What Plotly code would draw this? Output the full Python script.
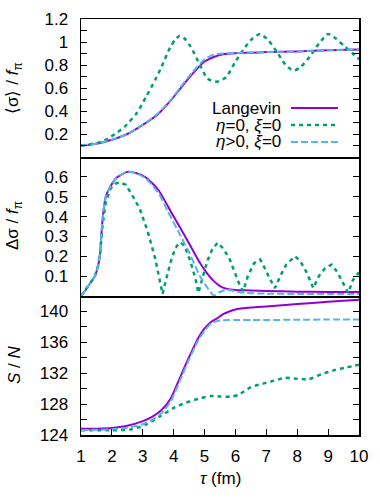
import plotly.graph_objects as go
from plotly.subplots import make_subplots

# ---------------- data ----------------
# panel 1: <sigma>/f_pi
tau_s1 = [1.0, 1.5, 2.0, 2.5, 3.0, 3.5, 3.9, 4.2, 4.6, 5.0, 5.3, 5.6, 6.0, 6.5, 7.0, 8.0, 9.0, 10.0]
sig_langevin = [0.10, 0.115, 0.15, 0.20, 0.28, 0.375, 0.49, 0.59, 0.72, 0.83, 0.87, 0.893, 0.903, 0.907, 0.912, 0.918, 0.928, 0.935]
sig_eta_pos = [0.10, 0.115, 0.15, 0.20, 0.28, 0.38, 0.495, 0.60, 0.735, 0.85, 0.89, 0.90, 0.905, 0.908, 0.912, 0.918, 0.928, 0.935]
tau_g1 = [1.0, 1.5, 1.8, 2.1, 2.4, 2.8, 3.1, 3.4, 3.6, 3.9, 4.05, 4.2, 4.35, 4.55, 4.85, 5.1, 5.4, 5.7,
          6.0, 6.3, 6.55, 6.8, 7.05, 7.3, 7.6, 7.87, 8.1, 8.4, 8.7, 9.0, 9.25, 9.5, 9.8, 10.0]
sig_eta0 = [0.10, 0.12, 0.15, 0.20, 0.26, 0.38, 0.52, 0.67, 0.78, 0.96, 1.02, 1.055, 1.03, 0.96, 0.80, 0.68, 0.655, 0.695,
            0.83, 0.95, 1.03, 1.07, 1.02, 0.93, 0.81, 0.75, 0.78, 0.87, 0.985, 1.07, 1.03, 0.97, 0.90, 0.85]

# panel 2: Delta sigma / f_pi
tau_d = [1.0, 1.15, 1.3, 1.45, 1.55, 1.62, 1.7, 1.8, 1.95, 2.15, 2.5, 2.8, 3.1, 3.5, 4.0, 4.5, 4.85, 5.1, 5.3, 5.5,
         5.7, 6.0, 6.5, 7.0, 8.0, 9.0, 10.0]
dsig_langevin = [0.0, 0.03, 0.065, 0.10, 0.15, 0.22, 0.39, 0.50, 0.55, 0.595, 0.625, 0.618, 0.597, 0.535, 0.40, 0.265,
                 0.167, 0.11, 0.075, 0.05, 0.037, 0.03, 0.028, 0.025, 0.022, 0.02, 0.02]
tau_d_b = [1.0, 1.15, 1.3, 1.45, 1.55, 1.62, 1.7, 1.8, 1.95, 2.15, 2.5, 2.8, 3.1, 3.5, 3.8, 4.1, 4.5, 4.85, 5.1, 5.3,
           5.5, 5.7, 5.95, 6.3, 7.0, 8.0, 10.0]
dsig_eta_pos = [0.0, 0.03, 0.065, 0.10, 0.15, 0.22, 0.39, 0.50, 0.55, 0.595, 0.625, 0.617, 0.592, 0.52, 0.43, 0.34,
                0.22, 0.10, 0.04, 0.003, 0.02, 0.032, 0.025, 0.016, 0.012, 0.01, 0.01]
tau_d_g = [1.0, 1.15, 1.3, 1.45, 1.55, 1.62, 1.7, 1.8, 1.95, 2.1, 2.25, 2.45, 2.65, 2.9, 3.15, 3.4, 3.55, 3.64, 3.75,
           3.9, 4.05, 4.2, 4.35, 4.55, 4.7, 4.8, 4.95, 5.1, 5.25, 5.42, 5.6, 5.8, 6.0, 6.15, 6.25, 6.4, 6.6, 6.8,
           6.95, 7.1, 7.28, 7.45, 7.65, 7.93, 8.1, 8.3, 8.52, 8.7, 8.9, 9.11, 9.3, 9.5, 9.65, 9.8, 10.0]
dsig_eta0 = [0.0, 0.03, 0.065, 0.10, 0.15, 0.22, 0.36, 0.47, 0.54, 0.565, 0.573, 0.56, 0.51, 0.44, 0.33, 0.19, 0.08,
             0.01, 0.08, 0.17, 0.24, 0.27, 0.255, 0.17, 0.09, 0.015, 0.10, 0.18, 0.235, 0.268, 0.24, 0.19, 0.11, 0.05,
             0.024, 0.10, 0.165, 0.184, 0.14, 0.09, 0.04, 0.10, 0.16, 0.20, 0.175, 0.12, 0.04, 0.10, 0.14, 0.158,
             0.12, 0.06, 0.016, 0.08, 0.12]

# panel 3: S/N
tau_e = [1.0, 1.5, 2.0, 2.5, 3.0, 3.3, 3.6, 3.9, 4.2, 4.5, 4.8, 5.0, 5.2, 5.4, 5.6, 5.8, 6.0, 6.5, 7.0, 8.0, 9.0, 10.0]
sn_langevin = [124.8, 124.82, 124.9, 125.2, 125.8, 126.35, 127.2, 128.7, 131.4, 134.1, 136.6, 137.8, 138.6, 139.1,
               139.65, 140.0, 140.25, 140.5, 140.65, 140.95, 141.25, 141.5]
sn_eta_pos = [124.65, 124.67, 124.72, 124.95, 125.4, 125.95, 126.8, 128.3, 131.0, 133.8, 136.3, 137.5, 138.4, 138.75,
              138.85, 138.88, 138.9, 138.9, 138.9, 138.92, 138.95, 138.95]
tau_e_g = [1.0, 2.0, 2.6, 3.1, 3.55, 4.0, 4.4, 4.85, 5.2, 5.5, 5.85, 6.1, 6.5, 7.0, 7.6, 8.0, 8.35, 8.8, 9.2, 9.6, 10.0]
sn_eta0 = [124.6, 124.62, 124.7, 125.35, 126.4, 127.5, 128.2, 128.75, 129.05, 129.0, 128.95, 129.2, 130.2, 130.75,
           131.4, 131.3, 131.2, 131.9, 132.4, 132.75, 133.1]

# ticks
x_ticks = [1, 2, 3, 4, 5, 6, 7, 8, 9, 10]
y1_ticks = [0.2, 0.4, 0.6, 0.8, 1.0, 1.2]
y1_text = ["0.2", "0.4", "0.6", "0.8", "1", "1.2"]
y2_ticks = [0.1, 0.2, 0.3, 0.4, 0.5, 0.6]
y2_text = ["0.1", "0.2", "0.3", "0.4", "0.5", "0.6"]
y3_ticks = [124, 128, 132, 136, 140]
y3_text = ["124", "128", "132", "136", "140"]

legend_labels = ["Langevin", "<i>η</i>=0, <i>ξ</i>=0", "<i>η</i>>0, <i>ξ</i>=0"]

# ---------------- style ----------------
PURPLE = "#9400D3"
GREEN = "#009E73"
BLUE = "#56B4E9"
FONT = "Liberation Sans, Arial, sans-serif"
FS = 17

line_p = dict(color=PURPLE, width=2)
line_g = dict(color=GREEN, width=2.5, dash="4px,4px")
line_b = dict(color=BLUE, width=2, dash="7px,3px")

fig = make_subplots(rows=3, cols=1, shared_xaxes=True, vertical_spacing=0,
                    row_heights=[138, 139, 139])

def add(x, y, line, row, shape="spline"):
    ln = dict(**line, shape=shape)
    if shape == "spline":
        ln["smoothing"] = 0.6
    fig.add_trace(go.Scatter(x=x, y=y, mode="lines", line=ln, showlegend=False, hoverinfo="skip"),
                  row=row, col=1)

add(tau_s1, sig_langevin, line_p, 1)
add(tau_g1, sig_eta0, line_g, 1)
add(tau_s1, sig_eta_pos, line_b, 1)

add(tau_d, dsig_langevin, line_p, 2)
add(tau_d_g, dsig_eta0, line_g, 2, shape="linear")
add(tau_d_b, dsig_eta_pos, line_b, 2)

add(tau_e, sn_langevin, line_p, 3)
add(tau_e_g, sn_eta0, line_g, 3)
add(tau_e, sn_eta_pos, line_b, 3)

axis_common = dict(showline=True, linecolor="black", linewidth=1.5, showgrid=False, zeroline=False,
                   tickcolor="black", tickwidth=1, ticklen=6, automargin=False,
                   tickfont=dict(family=FONT, size=FS, color="black"))

for r in (1, 2, 3):
    fig.update_xaxes(range=[1, 10], row=r, col=1, **axis_common)
fig.update_xaxes(mirror=True, ticks="", showticklabels=False, row=1, col=1)
fig.update_xaxes(mirror=False, ticks="", showticklabels=False, row=2, col=1)
fig.update_xaxes(mirror=False, ticks="inside", tickvals=x_ticks, ticktext=[str(v) for v in x_ticks],
                 ticklabelstandoff=5, row=3, col=1)

fig.update_yaxes(range=[0, 1.2], tickvals=y1_ticks, ticktext=y1_text,
                 minor=dict(dtick=0.1, tick0=0, ticks="inside", ticklen=6, tickcolor="black"), row=1, col=1)
fig.update_yaxes(range=[0, 0.7], tickvals=y2_ticks, ticktext=y2_text, row=2, col=1)
fig.update_yaxes(range=[124, 142], tickvals=y3_ticks, ticktext=y3_text,
                 minor=dict(dtick=2, tick0=124, ticks="inside", ticklen=6, tickcolor="black"), row=3, col=1)
for r in (1, 2, 3):
    fig.update_yaxes(mirror="ticks", ticks="inside", ticklabelstandoff=8, row=r, col=1, **axis_common)

W, H = 380, 498
L, R, T, B = 81, 21, 19, 63
PW, PH = W - L - R, H - T - B

def px(xp):
    return (xp - L) / PW

def py(yp):
    return 1 - (yp - T) / PH

ann = []
title_font = dict(family=FONT, size=FS, color="black")
ann.append(dict(text="⟨σ⟩ / <i>f</i><sub>π</sub>", x=px(14), y=py(88), textangle=-90))
ann.append(dict(text="Δσ / <i>f</i><sub>π</sub>", x=px(14), y=py(226), textangle=-90))
ann.append(dict(text="<i>S</i> / <i>N</i>", x=px(14), y=py(365), textangle=-90))
ann.append(dict(text="<i>τ</i> (fm)", x=px(220), y=py(478), textangle=0))
for a in ann:
    fig.add_annotation(xref="paper", yref="paper", showarrow=False, xanchor="center", yanchor="middle",
                       font=title_font, **a)

rows_y = [108, 125, 142]
legend_lines = [line_p, line_g, line_b]
for lab, yy, ln in zip(legend_labels, rows_y, legend_lines):
    fig.add_annotation(xref="paper", yref="paper", showarrow=False, xanchor="right", yanchor="middle",
                       x=px(283), y=py(yy), text=lab, font=title_font)
    fig.add_shape(type="line", xref="paper", yref="paper", x0=px(291), x1=px(338), y0=py(yy), y1=py(yy),
                  line=dict(color=ln["color"], width=ln["width"], dash=ln.get("dash", "solid")))

fig.update_layout(width=W, height=H, margin=dict(l=L, r=R, t=T, b=B, autoexpand=False),
                  paper_bgcolor="white", plot_bgcolor="white",
                  font=dict(family=FONT, size=FS, color="black"), showlegend=False)

fig.write_html("out.html", config={"displayModeBar": False, "staticPlot": True},
               post_script="document.body.style.margin='0';document.body.style.padding='0';"
                           "document.documentElement.style.overflow='hidden';")
